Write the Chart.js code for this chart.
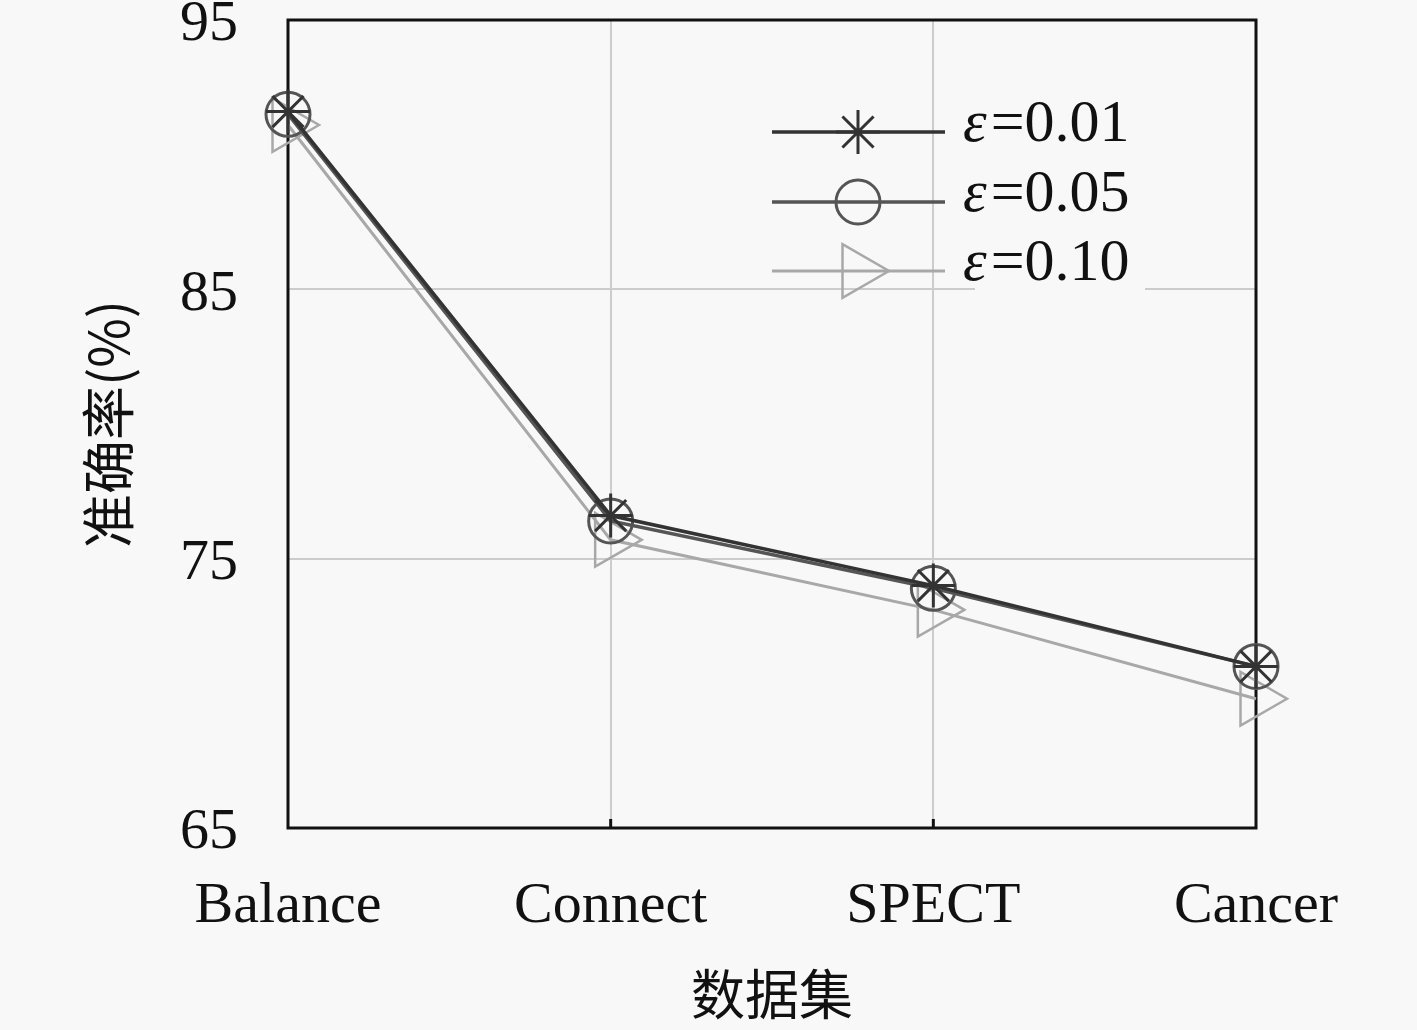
<!DOCTYPE html>
<html>
<head>
<meta charset="utf-8">
<script src="https://cdn.jsdelivr.net/npm/chart.js@4.4.1/dist/chart.umd.min.js"></script>
<style>
  html, body { margin: 0; padding: 0; background: #f8f8f8; }
  canvas { display: block; }
</style>
</head>
<body>
<canvas id="c" width="1417" height="1030"></canvas>
<script>
// ---- data ----
const categories = ['Balance', 'Connect', 'SPECT', 'Cancer'];
const seriesLabels = ['ε=0.01', 'ε=0.05', 'ε=0.10'];
const eps001 = [91.6, 76.6, 74.0, 71.0];
const eps005 = [91.5, 76.4, 73.9, 71.0];
const eps010 = [91.1, 75.7, 73.1, 69.8];
const yTicks = [65, 75, 85, 95];
const yTitle = '准确率(%)';
const xTitle = '数据集';

const BG = '#f8f8f8';
const SERIF = "'Liberation Serif', 'DejaVu Serif', serif";
const CJK = "'Noto Sans CJK SC', 'Noto Sans CJK JP', sans-serif";

const framePlugin = {
  id: 'frame',
  beforeDatasetsDraw(chart) {
    const {ctx, chartArea: a, scales: {x}} = chart;
    ctx.save();
    ctx.strokeStyle = '#111';
    ctx.lineWidth = 3;
    ctx.strokeRect(a.left, a.top, a.right - a.left, a.bottom - a.top);
    for (let i = 1; i < categories.length - 1; i++) {
      const px = x.getPixelForValue(i);
      ctx.beginPath();
      ctx.moveTo(px, a.bottom);
      ctx.lineTo(px, a.bottom - 9);
      ctx.stroke();
    }
    ctx.restore();
  }
};

const legendPlugin = {
  id: 'customLegend',
  afterDraw(chart) {
    const {ctx} = chart;
    const rows = [132, 202, 271];
    const x0 = 772, x1 = 945, mx = 858, tx = 963;
    chart.data.datasets.forEach((ds, i) => {
      const y = rows[i];
      ctx.save();
      ctx.fillStyle = BG;
      ctx.fillRect(tx + 12, y - 36, 170, 56);
      ctx.strokeStyle = ds.borderColor;
      ctx.lineWidth = ds.borderWidth;
      ctx.beginPath();
      ctx.moveTo(x0, y);
      ctx.lineTo(x1, y);
      ctx.stroke();
      ctx.strokeStyle = ds.pointBorderColor;
      ctx.fillStyle = 'rgba(0,0,0,0)';
      ctx.lineWidth = ds.pointBorderWidth;
      Chart.helpers.drawPoint(ctx, {
        pointStyle: ds.pointStyle,
        rotation: ds.pointRotation || 0,
        radius: ds.pointRadius,
        borderWidth: ds.pointBorderWidth
      }, mx, y);
      ctx.fillStyle = '#111';
      ctx.textBaseline = 'alphabetic';
      ctx.textAlign = 'left';
      const lbl = ds.label;
      const eps = lbl.charAt(0), rest = lbl.slice(1);
      ctx.font = 'italic 60px ' + SERIF;
      ctx.fillText(eps, tx, y + 9);
      const w = ctx.measureText(eps).width;
      ctx.font = '60px ' + SERIF;
      ctx.fillText(rest, tx + w + 4, y + 9);
      ctx.restore();
    });
  }
};

function mk(label, data, color, style, radius, bw, rot, lw) {
  return {
    label, data,
    borderColor: color,
    borderWidth: lw,
    pointStyle: style,
    pointRadius: radius,
    pointHoverRadius: radius,
    pointBorderColor: color,
    pointBackgroundColor: 'rgba(0,0,0,0)',
    pointBorderWidth: bw,
    pointRotation: rot,
    fill: false,
    tension: 0,
    clip: false
  };
}

new Chart(document.getElementById('c'), {
  type: 'line',
  data: {
    labels: categories,
    datasets: [
      mk(seriesLabels[0], eps001, '#333333', 'star', 22, 3, 0, 3.5),
      mk(seriesLabels[1], eps005, '#555555', 'circle', 22, 3, 0, 3.5),
      mk(seriesLabels[2], eps010, '#a8a8a8', 'triangle', 31, 2.5, 90, 3)
    ]
  },
  options: {
    responsive: false,
    devicePixelRatio: 1,
    animation: false,
    events: [],
    layout: { autoPadding: false, padding: { top: 20, right: 161, left: 0, bottom: 0 } },
    plugins: { legend: { display: false }, tooltip: { enabled: false } },
    scales: {
      x: {
        type: 'category',
        offset: false,
        grid: { color: '#cccccc', lineWidth: 2, drawTicks: false },
        border: { display: false },
        ticks: { color: '#111', font: { family: SERIF, size: 58 }, padding: 44, maxRotation: 0, autoSkip: false },
        title: { display: true, text: xTitle, color: '#111', font: { family: CJK, size: 54 }, padding: { top: 0, bottom: 3 } },
        afterFit(s) { s.height = 202; s.paddingLeft = 0; s.paddingRight = 0; }
      },
      y: {
        min: 65, max: 95,
        afterBuildTicks(s) { s.ticks = yTicks.map(v => ({ value: v })); },
        grid: { color: '#cccccc', lineWidth: 2, drawTicks: false },
        border: { display: false },
        ticks: { color: '#111', font: { family: SERIF, size: 58, lineHeight: 0.5 }, padding: 50, labelOffset: 5 },
        title: { display: true, text: yTitle, color: '#111', font: { family: CJK, size: 54 }, padding: { top: 76, bottom: 0 } },
        afterFit(s) { s.width = 288; s.paddingTop = 0; s.paddingBottom = 0; }
      }
    }
  },
  plugins: [framePlugin, legendPlugin]
});
</script>
</body>
</html>
